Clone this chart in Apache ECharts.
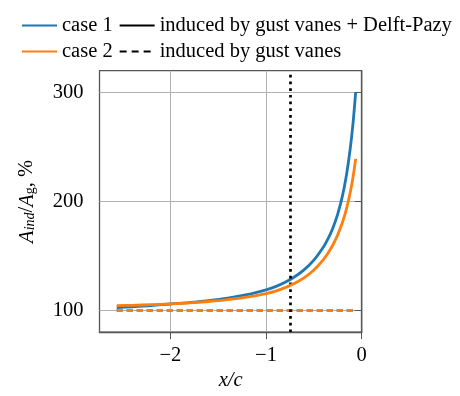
<!DOCTYPE html>
<html>
<head>
<meta charset="utf-8">
<script src="https://cdn.jsdelivr.net/npm/echarts@6/dist/echarts.min.js"></script>
<style>
  html, body { margin: 0; padding: 0; background: #fff; }
  #chart { width: 460px; height: 396px; }
</style>
</head>
<body>
<div id="chart"></div>
<script>
// x/c positions
const xPos = [-2.56, -2.4, -2.2, -2.0, -1.8, -1.6, -1.4, -1.2, -1.0, -0.9, -0.8, -0.7, -0.6, -0.5, -0.4, -0.35, -0.3, -0.25, -0.2, -0.16, -0.12, -0.09, -0.063];
// induced by gust vanes + Delft-Pazy
const case1Total = [102.5, 103.2, 104.3, 105.8, 107.1, 108.9, 111.2, 114.3, 118.8, 121.8, 125.7, 130.8, 137.4, 146.1, 158.1, 166.0, 175.9, 188.6, 205.5, 223.8, 248.3, 272.3, 300.0];
const case2Total = [104.3, 104.6, 105.2, 105.9, 106.8, 108.1, 109.8, 112.1, 115.4, 117.7, 120.8, 124.8, 130.0, 137.0, 146.6, 152.8, 160.2, 169.5, 181.1, 192.9, 208.2, 222.7, 239.0];
// induced by gust vanes only
const case1Vanes = [100, 100, 100, 100, 100, 100, 100, 100, 100, 100, 100, 100, 100, 100, 100, 100, 100, 100, 100, 100, 100, 100, 100];
const case2Vanes = [100, 100, 100, 100, 100, 100, 100, 100, 100, 100, 100, 100, 100, 100, 100, 100, 100, 100, 100, 100, 100, 100, 100];
const vaneLineX = -0.75;
const xTicks = [-2, -1, 0];
const yTicks = [100, 200, 300];

const blue = '#1f77b4';
const orange = '#ff7f0e';
const serif = "'Liberation Serif', serif";
const lw = 2.8;

const pairs = (ys) => xPos.map((x, i) => [x, ys[i]]);

const chart = echarts.init(document.getElementById('chart'));

const legendBase = {
  left: 21,
  padding: 0,
  itemWidth: 35,
  itemHeight: 14,
  itemGap: 6,
  itemStyle: { opacity: 0 },
  textStyle: { fontFamily: serif, fontSize: 20.5, color: '#000' }
};

const option = {
  backgroundColor: '#fff',
  animation: false,
  legend: [
    { ...legendBase, top: 15, data: ['case 1', 'induced by gust vanes + Delft-Pazy'] },
    { ...legendBase, top: 41, data: ['case 2', 'induced by gust vanes'] }
  ],
  grid: {
    left: 99.5, right: 98.3, top: 70.7, bottom: 63.3,
    show: true, borderColor: '#555', borderWidth: 1.3, backgroundColor: 'transparent'
  },
  xAxis: {
    type: 'value',
    min: -2.74,
    max: 0,
    name: 'x/c',
    nameLocation: 'middle',
    nameGap: 30,
    nameTextStyle: { fontFamily: serif, fontSize: 20.5, fontStyle: 'italic', color: '#000' },
    axisLine: { show: true, lineStyle: { color: '#555', width: 1.3 } },
    axisTick: { show: true, length: 7, lineStyle: { color: '#555' }, customValues: xTicks },
    axisLabel: {
      fontFamily: serif, fontSize: 20.5, color: '#000', margin: 13,
      customValues: xTicks,
      formatter: v => (v < 0 ? '\u2212' + Math.abs(v) : String(v))
    },
    splitLine: { show: true, lineStyle: { color: '#b0b0b0', width: 1 } }
  },
  yAxis: {
    type: 'value',
    min: 80,
    max: 320,
    name: '{it|A}{sub|ind}{n|/}{it|A}{subr|g}{n|, %}',
    nameLocation: 'middle',
    nameGap: 62,
    nameRotate: 90,
    nameTextStyle: {
      color: '#000',
      rich: {
        it: { fontFamily: serif, fontSize: 20.5, fontStyle: 'italic', lineHeight: 24, verticalAlign: 'bottom' },
        n: { fontFamily: serif, fontSize: 20.5, lineHeight: 24, verticalAlign: 'bottom' },
        sub: { fontFamily: serif, fontSize: 14, fontStyle: 'italic', lineHeight: 20, verticalAlign: 'bottom' },
        subr: { fontFamily: serif, fontSize: 14, lineHeight: 20, verticalAlign: 'bottom' }
      }
    },
    axisLine: { show: true, lineStyle: { color: '#555', width: 1.3 } },
    axisTick: { show: true, length: 7, lineStyle: { color: '#555' }, customValues: yTicks },
    axisLabel: { fontFamily: serif, fontSize: 20.5, color: '#000', margin: 16, customValues: yTicks },
    splitLine: { show: true, lineStyle: { color: '#b0b0b0', width: 1 } }
  },
  series: [
    {
      name: 'case 1 vanes',
      type: 'line',
      data: pairs(case1Vanes),
      symbol: 'none',
      lineStyle: { color: blue, width: lw, type: [6, 4] },
      z: 2
    },
    {
      name: 'case 2 vanes',
      type: 'line',
      data: pairs(case2Vanes),
      symbol: 'none',
      lineStyle: { color: orange, width: lw, type: [6, 4] },
      z: 3
    },
    {
      name: 'case 1',
      type: 'line',
      data: pairs(case1Total),
      symbol: 'none',
      smooth: 0.3,
      color: blue,
      lineStyle: { color: blue, width: lw },
      z: 4
    },
    {
      name: 'case 2',
      type: 'line',
      data: pairs(case2Total),
      symbol: 'none',
      smooth: 0.3,
      color: orange,
      lineStyle: { color: orange, width: lw },
      z: 5,
      markLine: {
        silent: true,
        symbol: ['none', 'none'],
        label: { show: false },
        lineStyle: { color: '#000', width: 2.7, type: [2.7, 4] },
        data: [{ xAxis: vaneLineX }]
      }
    },
    {
      name: 'induced by gust vanes + Delft-Pazy',
      type: 'line',
      data: [],
      symbol: 'none',
      color: '#000',
      lineStyle: { color: '#000', width: lw }
    },
    {
      name: 'induced by gust vanes',
      type: 'line',
      data: [],
      symbol: 'none',
      color: '#000',
      lineStyle: { color: '#000', width: lw, type: [7, 5] }
    }
  ]
};

chart.setOption(option);
</script>
</body>
</html>
